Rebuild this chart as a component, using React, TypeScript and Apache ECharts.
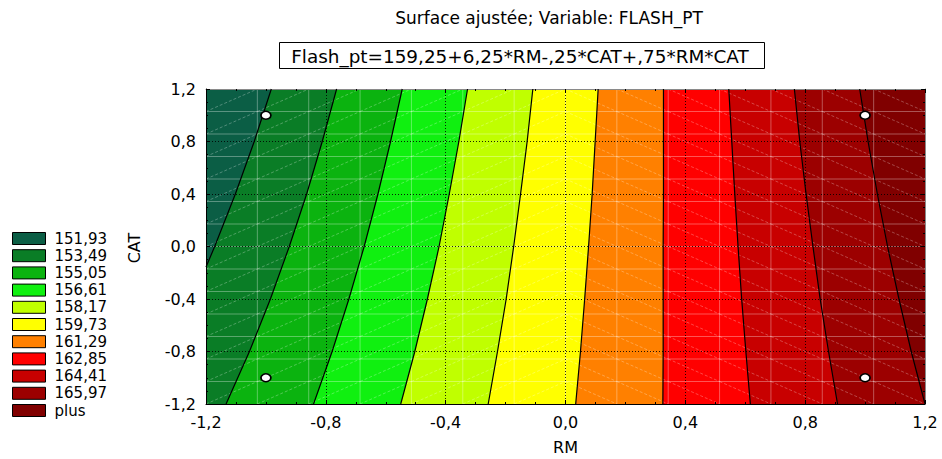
import React, { useEffect, useRef } from 'react';
import * as echarts from 'echarts';

const FONT = '"DejaVu Sans", sans-serif';

// Legend levels (upper bound of each band) and their colours
const levelLabels = ['151,93', '153,49', '155,05', '156,61', '158,17', '159,73', '161,29', '162,85', '164,41', '165,97', 'plus'];
const levelColors = ['#0b5e45', '#0a7d26', '#0bb30f', '#10f010', '#c0ff00', '#ffff00', '#ff8000', '#ff0000', '#c80000', '#9c0000', '#800000'];

// Contour lines: [RM, CAT] points, from top to bottom
const contour15193 = [[-0.982, 1.2], [-1.039, 0.8], [-1.102, 0.4], [-1.171, 0], [-1.2, -0.157]];
const contour15349 = [[-0.764, 1.2], [-0.812, 0.8], [-0.864, 0.4], [-0.922, 0], [-0.985, -0.4], [-1.055, -0.8], [-1.133, -1.2]];
const contour15505 = [[-0.545, 1.2], [-0.584, 0.8], [-0.626, 0.4], [-0.672, 0], [-0.723, -0.4], [-0.779, -0.8], [-0.841, -1.2]];
const contour15661 = [[-0.327, 1.2], [-0.356, 0.8], [-0.388, 0.4], [-0.422, 0], [-0.461, -0.4], [-0.503, -0.8], [-0.55, -1.2]];
const contour15817 = [[-0.109, 1.2], [-0.128, 0.8], [-0.15, 0.4], [-0.173, 0], [-0.198, -0.4], [-0.227, -0.8], [-0.258, -1.2]];
const contour15973 = [[0.109, 1.2], [0.099, 0.8], [0.089, 0.4], [0.077, 0], [0.064, -0.4], [0.05, -0.8], [0.034, -1.2]];
const contour16129 = [[0.327, 1.2], [0.327, 0.8], [0.327, 0.4], [0.326, 0], [0.326, -0.4], [0.326, -0.8], [0.325, -1.2]];
const contour16285 = [[0.545, 1.2], [0.555, 0.8], [0.565, 0.4], [0.576, 0], [0.588, -0.4], [0.602, -0.8], [0.617, -1.2]];
const contour16441 = [[0.764, 1.2], [0.782, 0.8], [0.803, 0.4], [0.826, 0], [0.85, -0.4], [0.878, -0.8], [0.908, -1.2]];
const contour16597 = [[0.982, 1.2], [1.01, 0.8], [1.041, 0.4], [1.075, 0], [1.113, -0.4], [1.154, -0.8], [1.2, -1.2]];

// Experimental design points
const designPoints = [[-1, 1], [1, 1], [-1, -1], [1, -1]];

// Axis range
const axisMin = -1.2;
const axisMax = 1.2;
const axisStep = 0.4;

const titleText = 'Surface ajustée; Variable: FLASH_PT';
const equationText = 'Flash_pt=159,25+6,25*RM-,25*CAT+,75*RM*CAT';
const xName = 'RM';
const yName = 'CAT';

const contours = [contour15193, contour15349, contour15505, contour15661, contour15817, contour15973, contour16129, contour16285, contour16441, contour16597];

const MESH = 14;

const fmt = (v: number) => (Math.abs(v) < 1e-9 ? '0,0' : v.toFixed(1).replace('.', ','));

export default function App() {
  const ref = useRef<HTMLDivElement>(null);

  useEffect(() => {
    if (!ref.current) return;
    const chart = echarts.init(ref.current, null, { renderer: 'svg' });

    // painter order: 'plus' first (whole area), then each band left of its contour
    const order = [10, 9, 8, 7, 6, 5, 4, 3, 2, 1, 0];
    const fillSeries = order.map((i) => ({
      type: 'custom',
      name: levelLabels[i],
      z: 1,
      silent: true,
      clip: true,
      itemStyle: { color: levelColors[i], borderColor: '#000', borderWidth: 1 },
      data: [[0, 0]],
      renderItem: (_params: any, api: any) => {
        const region =
          i < 10
            ? [[axisMin, axisMax], ...contours[i], [axisMin, axisMin]]
            : [[axisMin, axisMax], [axisMax, axisMax], [axisMax, axisMin], [axisMin, axisMin]];
        return {
          type: 'polygon',
          z2: 10 - i,
          shape: { points: region.map((p) => api.coord(p)) },
          style: { fill: levelColors[i], stroke: null },
        };
      },
    }));

    const meshSeries = {
      type: 'custom',
      name: 'mesh',
      z: 2,
      silent: true,
      data: [[0, 0]],
      renderItem: (_params: any, api: any) => {
        const step = (axisMax - axisMin) / MESH;
        const children: any[] = [];
        const lineStyle = { stroke: 'rgba(255,255,255,0.33)', lineWidth: 1 };
        const diagStyle = { stroke: 'rgba(255,255,255,0.28)', lineWidth: 1, lineDash: [3, 2] };
        for (let k = 1; k < MESH; k++) {
          const v = axisMin + k * step;
          const a = api.coord([v, axisMin]);
          const b = api.coord([v, axisMax]);
          children.push({ type: 'line', shape: { x1: a[0], y1: a[1], x2: b[0], y2: b[1] }, style: lineStyle });
          const c = api.coord([axisMin, v]);
          const d = api.coord([axisMax, v]);
          children.push({ type: 'line', shape: { x1: c[0], y1: c[1], x2: d[0], y2: d[1] }, style: lineStyle });
        }
        for (let i = 0; i < MESH; i++) {
          for (let j = 0; j < MESH; j++) {
            const x0 = axisMin + i * step;
            const x1 = axisMin + (i + 1) * step;
            const y0 = axisMin + j * step;
            const y1 = axisMin + (j + 1) * step;
            const p = i < MESH / 2 ? api.coord([x0, y0]) : api.coord([x0, y1]);
            const q = i < MESH / 2 ? api.coord([x1, y1]) : api.coord([x1, y0]);
            children.push({ type: 'line', shape: { x1: p[0], y1: p[1], x2: q[0], y2: q[1] }, style: diagStyle });
          }
        }
        return { type: 'group', children };
      },
    };

    const contourSeries = {
      type: 'custom',
      name: 'contours',
      z: 4,
      silent: true,
      data: contours.map(() => [0, 0]),
      renderItem: (params: any, api: any) => {
        const pts = contours[params.dataIndex].map((p) => api.coord(p));
        return {
          type: 'polyline',
          shape: { points: pts },
          style: { stroke: '#000', lineWidth: 1.2, fill: null },
        };
      },
    };

    const pointSeries = {
      type: 'scatter',
      name: 'points',
      z: 5,
      silent: true,
      symbol: 'circle',
      symbolSize: [10, 8],
      itemStyle: { color: '#fff', borderColor: '#000', borderWidth: 1.6, opacity: 1 },
      data: designPoints,
    };

    const baseAxis = {
      type: 'value',
      min: axisMin,
      max: axisMax,
      interval: axisStep,
      z: 3,
      axisTick: { show: true, inside: true, length: 4, lineStyle: { color: '#000' } },
      minorTick: { show: true, splitNumber: 4, length: 2, lineStyle: { color: '#000' } },
    };

    const labelStyle = { fontFamily: FONT, fontSize: 16, color: '#000', formatter: fmt };
    const splitStyle = {
      show: true,
      showMinLine: false,
      showMaxLine: false,
      lineStyle: { color: '#000', width: 1, type: [1, 2], opacity: 0.85 },
    };

    chart.setOption({
      animation: false,
      backgroundColor: '#fff',
      grid: { left: 206, top: 89, width: 719, height: 315, outerBoundsMode: 'none' },
      legend: {
        data: levelLabels,
        orient: 'vertical',
        left: 7,
        top: 226,
        height: 260,
        icon: 'rect',
        itemWidth: 33,
        itemHeight: 12,
        itemGap: 2.2,
        selectedMode: false,
        itemStyle: { borderColor: '#000', borderWidth: 1 },
        textStyle: { fontFamily: FONT, fontSize: 15, color: '#000', lineHeight: 12, padding: [0, 0, 0, 4] },
      },
      xAxis: [
        {
          ...baseAxis,
          position: 'bottom',
          axisLine: { show: true, onZero: false, lineStyle: { color: '#000', width: 1 } },
          axisLabel: { ...labelStyle, margin: 10 },
          splitLine: splitStyle,
          name: xName,
          nameLocation: 'middle',
          nameGap: 35,
          nameTextStyle: { fontFamily: FONT, fontSize: 16, color: '#000' },
        },
        {
          ...baseAxis,
          position: 'top',
          axisLine: { show: true, onZero: false, lineStyle: { color: '#8a8a8a', width: 1 } },
          axisLabel: { show: false },
          splitLine: { show: false },
        },
      ],
      yAxis: [
        {
          ...baseAxis,
          position: 'left',
          axisLine: { show: true, onZero: false, lineStyle: { color: '#000', width: 1 } },
          axisLabel: { ...labelStyle, margin: 10 },
          splitLine: splitStyle,
        },
        {
          ...baseAxis,
          position: 'right',
          axisLine: { show: true, onZero: false, lineStyle: { color: '#8a8a8a', width: 1 } },
          axisLabel: { show: false },
          splitLine: { show: false },
        },
      ],
      graphic: [
        {
          type: 'text',
          x: 549,
          y: 18,
          style: { text: titleText, align: 'center', verticalAlign: 'middle', font: `17px ${FONT}`, fill: '#000' },
        },
        {
          type: 'rect',
          shape: { x: 279.5, y: 42.5, width: 485, height: 26 },
          style: { fill: '#fff', stroke: '#000', lineWidth: 1 },
        },
        {
          type: 'text',
          x: 520,
          y: 56,
          style: { text: equationText, align: 'center', verticalAlign: 'middle', font: `18.4px ${FONT}`, fill: '#000' },
        },
        {
          type: 'text',
          x: 134,
          y: 248,
          rotation: Math.PI / 2,
          style: { text: yName, align: 'center', verticalAlign: 'middle', font: `16px ${FONT}`, fill: '#000' },
        },
      ],
      series: [...fillSeries, meshSeries, contourSeries, pointSeries],
    });

    return () => chart.dispose();
  }, []);

  return <div ref={ref} style={{ position: 'absolute', left: 0, top: 0, width: 942, height: 459 }} />;
}
